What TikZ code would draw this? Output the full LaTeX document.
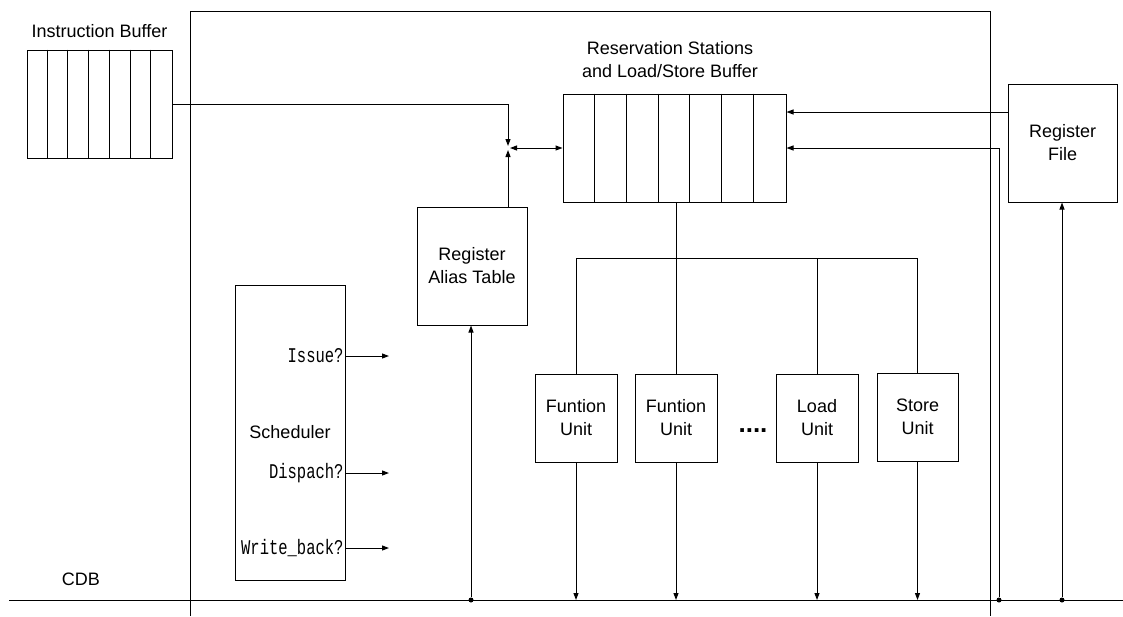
\documentclass[tikz,border=0pt]{standalone}
\usepackage{fontspec}
\usepackage{graphicx}
\setmainfont{Liberation Sans}
\newfontfamily\monof{Liberation Mono}
\newcommand{\tallmono}[1]{\scalebox{1}[1.35]{#1}}
\usetikzlibrary{arrows.meta,calc}
\begin{document}
\begin{tikzpicture}[x=1pt,y=-1pt,
  line width=1pt,
  box/.style={draw,inner sep=0pt,align=center,font=\fontsize{18}{23}\selectfont},
  lbl/.style={inner sep=0pt,align=center,font=\fontsize{18}{23}\selectfont},
  mono/.style={inner sep=1pt,font=\monof\fontsize{15.5}{18}\selectfont},
  arr/.style={-{Triangle[length=7pt,width=5pt]}},
  arrb/.style={{Triangle[length=7pt,width=5pt]}-{Triangle[length=7pt,width=5pt]}},
  dot/.style={circle,fill,inner sep=0pt,minimum size=5pt}]
\useasboundingbox (0,0) rectangle (1123,616);
% outer frame
\coordinate (fTL) at (190,11);
\coordinate (fTR) at (990,11);
\coordinate (fBL) at (190,616);
\coordinate (fBR) at (990,616);
\draw (fBL) -- (fTL) -- (fTR) -- (fBR);
% CDB
\coordinate (cdbL) at (9,600);
\coordinate (cdbR) at (1123,600);
\draw (cdbL) -- (cdbR);
\node[lbl] (cdb) at (81,579) {CDB};
% Instruction buffer
\node[box,minimum width=145pt,minimum height=108pt] (ib) at (99.5,104) {};
\foreach \i in {1,...,6} {\draw ($(ib.north west)+(\i*145/7,0)$) -- ($(ib.south west)+(\i*145/7,0)$);}
\node[lbl] (ibl) at (99.5,31) {Instruction Buffer};
% Reservation stations
\node[box,minimum width=223pt,minimum height=108pt] (rs) at (674.5,148) {};
\foreach \i in {1,...,6} {\draw ($(rs.north west)+(\i*223/7,0)$) -- ($(rs.south west)+(\i*223/7,0)$);}
\node[lbl] (rsl) at (670,59.5) {Reservation Stations\\and Load/Store Buffer};
% Register file
\node[box,minimum width=109pt,minimum height=118pt] (rf) at (1062.5,143) {Register\\File};
% RAT
\node[box,minimum width=110pt,minimum height=118pt] (rat) at (472,266) {Register\\Alias Table};
% Scheduler
\node[box,minimum width=110pt,minimum height=295pt] (sch) at (290,432.5) {Scheduler};
\node[mono,anchor=east] (iss) at (345,356) {\tallmono{Issue?}};
\node[mono,anchor=east] (dis) at (345,473) {\tallmono{Dispach?}};
\node[mono,anchor=east] (wb) at (345,548) {\tallmono{Write\_back?}};
\coordinate (issE) at (389,356);
\coordinate (disE) at (389,473);
\coordinate (wbE) at (389,548);
\draw[arr] (iss.east -| sch.east) -- (issE);
\draw[arr] (dis.east -| sch.east) -- (disE);
\draw[arr] (wb.east -| sch.east) -- (wbE);
% Function units
\node[box,minimum width=82pt,minimum height=88pt] (fu1) at (576,418) {Funtion\\Unit};
\node[box,minimum width=82pt,minimum height=88pt] (fu2) at (676,418) {Funtion\\Unit};
\node[box,minimum width=82pt,minimum height=88pt] (ld) at (817,418) {Load\\Unit};
\node[box,minimum width=81pt,minimum height=88pt] (st) at (917.5,417) {Store\\Unit};
\node[inner sep=0pt,font=\fontsize{26}{26}\selectfont\bfseries] (dots) at (753,431) {....};
% bus from RS to units
\coordinate (bus) at (676,258);
\draw (rs.south -| bus) -- (bus);
\draw (fu1.north) -- (fu1.north |- bus) -- (st.north |- bus) -- (st.north);
\draw (fu2.north) -- (fu2.north |- bus);
\draw (ld.north) -- (ld.north |- bus);
% units to CDB
\foreach \u in {fu1,fu2,ld,st} {\draw[arr] (\u.south) -- (\u.south |- cdbL);}
% junction
\coordinate (j) at (508,148);
\draw[arr] (ib.east) -- (ib.east -| j) -- ($(j)+(0,-2)$);
\draw[arr] (rat.north -| j) -- ($(j)+(0,2)$);
\draw[arrb] ($(j)+(2,0)$) -- (rs.west);
% RAT from CDB
\coordinate (c1) at (471,600);
\node[dot] (d1) at (c1) {};
\draw[arr] (d1) -- (rat.south -| d1);
% Register file connections
\coordinate (rfa) at (786,112);
\draw[arr] (rf.west |- rfa) -- (rs.east |- rfa);
\coordinate (c2) at (999,600);
\coordinate (c2t) at (999,148);
\node[dot] (d2) at (c2) {};
\draw[arr] (d2) -- (c2t) -- (rs.east |- c2t);
\coordinate (c3) at (1062,600);
\node[dot] (d3) at (c3) {};
\draw[arr] (d3) -- (rf.south -| d3);
\end{tikzpicture}
\end{document}
